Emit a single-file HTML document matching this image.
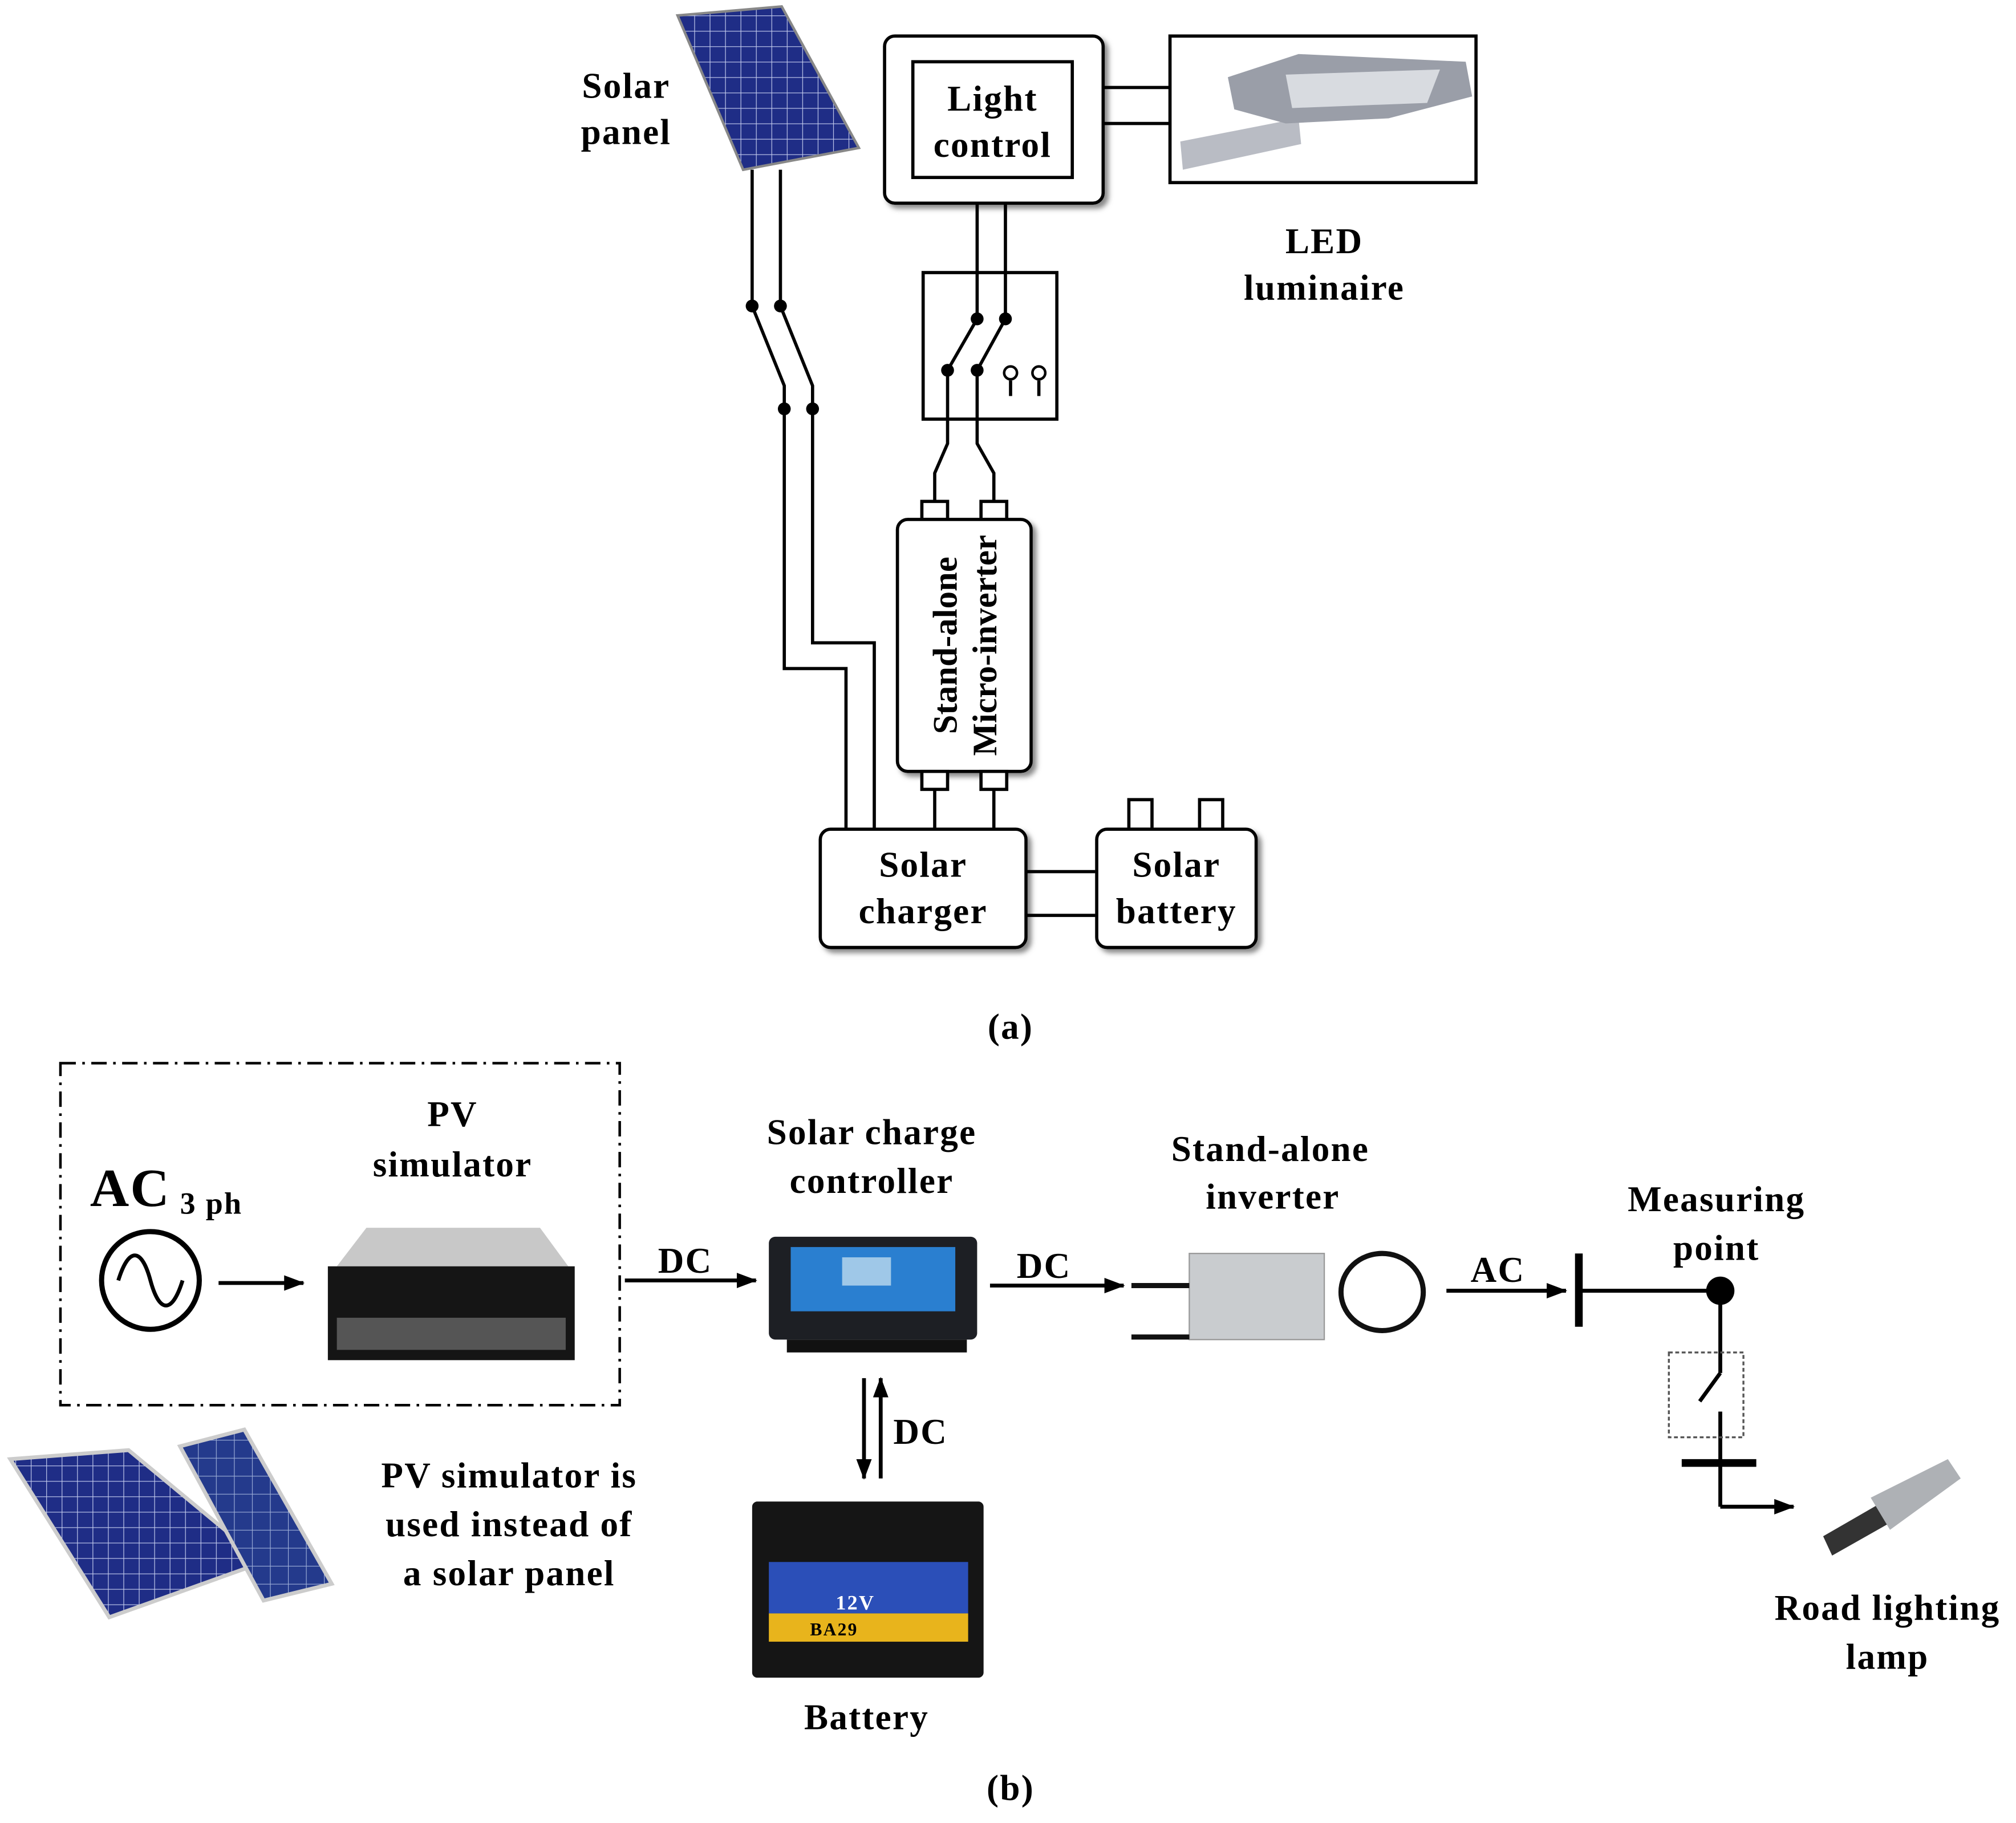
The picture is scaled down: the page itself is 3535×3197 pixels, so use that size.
<!DOCTYPE html>
<html><head><meta charset="utf-8"><style>
html,body{margin:0;padding:0;background:#fff;}
svg{display:block;}
text{font-family:"Liberation Serif",serif;font-weight:bold;fill:#000;letter-spacing:1px;}
text.v{letter-spacing:0;}
</style></head><body>
<svg width="3535" height="3197" viewBox="0 0 1568 1418" xmlns="http://www.w3.org/2000/svg">
<defs>
<marker id="ar" markerWidth="16" markerHeight="12" refX="15" refY="6" orient="auto" markerUnits="userSpaceOnUse" viewBox="0 0 16 12"><path d="M0,0 L16,6 L0,12 z" fill="#000"/></marker>
<filter id="sh" x="-10%" y="-10%" width="130%" height="130%"><feDropShadow dx="3" dy="3" stdDeviation="2" flood-color="#888"/></filter>
<pattern id="cells" width="12" height="12" patternUnits="userSpaceOnUse"><rect width="12" height="12" fill="#1f2d86"/><path d="M0,0H12M0,0V12" stroke="#c8d0f0" stroke-width="1"/></pattern>
<pattern id="cells2" width="14" height="14" patternUnits="userSpaceOnUse"><rect width="14" height="14" fill="#243a8c"/><path d="M0,0H14M0,0V14" stroke="#9fb0d8" stroke-width="1"/></pattern>
</defs>
<g fill="none" stroke="#000" stroke-width="2.5">
<polygon points="527,12 608,5 668,115 578,132" fill="url(#cells)" stroke="#888" stroke-width="2"/>
<path d="M585,132V238L610,300V520H658V645"/>
<path d="M607,132V238L632,300V500H680V645"/>
<rect x="688" y="28" width="170" height="130" rx="8" fill="#fff" filter="url(#sh)"/>
<rect x="710" y="48" width="124" height="90" fill="#fff"/>
<path d="M858,68H910M858,96H910"/>
<rect x="910" y="28" width="238" height="114" fill="#fff"/>
<rect x="718" y="212" width="104" height="114" fill="#fff"/>
<path d="M760,158V248M782,158V248"/>
<path d="M737,288L760,248M760,288L782,248"/>
<path d="M737,288V345L727,368V390M760,288V345L773,368V390"/>
<path d="M786,296V308M808,296V308"/>
<rect x="717" y="390" width="20" height="14" fill="#fff"/>
<rect x="763" y="390" width="20" height="14" fill="#fff"/>
<rect x="698" y="404" width="104" height="196" rx="8" fill="#fff" filter="url(#sh)"/>
<rect x="717" y="600" width="20" height="14" fill="#fff"/>
<rect x="763" y="600" width="20" height="14" fill="#fff"/>
<path d="M727,614V645M773,614V645"/>
<rect x="638" y="645" width="160" height="92" rx="8" fill="#fff" filter="url(#sh)"/>
<path d="M798,678H853M798,712H853"/>
<rect x="878" y="622" width="18" height="23" fill="#fff"/>
<rect x="933" y="622" width="18" height="23" fill="#fff"/>
<rect x="853" y="645" width="124" height="92" rx="8" fill="#fff" filter="url(#sh)"/>
</g>
<g fill="#000">
<circle cx="585" cy="238" r="5"/><circle cx="607" cy="238" r="5"/>
<circle cx="610" cy="318" r="5"/><circle cx="632" cy="318" r="5"/>
<circle cx="760" cy="248" r="5"/><circle cx="782" cy="248" r="5"/>
<circle cx="737" cy="288" r="5"/><circle cx="760" cy="288" r="5"/>
</g>
<circle cx="786" cy="290" r="5" fill="#fff" stroke="#000" stroke-width="2"/>
<circle cx="808" cy="290" r="5" fill="#fff" stroke="#000" stroke-width="2"/>
<path d="M918,110 L1010,92 L1012,112 L920,132 Z" fill="#b9bcc4"/>
<path d="M955,60 L1010,42 L1140,48 L1145,75 L1080,92 L1000,96 L960,85 Z" fill="#9a9ea8"/>
<path d="M1000,58 L1120,54 L1110,80 L1005,84 Z" fill="#d8dbe0"/>
<g font-size="28" text-anchor="middle">
<text x="487" y="76">Solar</text><text x="487" y="112">panel</text>
<text x="772" y="86">Light</text><text x="772" y="122">control</text>
<text x="1030" y="197">LED</text><text x="1030" y="233">luminaire</text>
<text x="718" y="682">Solar</text><text x="718" y="718">charger</text>
<text x="915" y="682">Solar</text><text x="915" y="718">battery</text>
<text class="v" font-size="27" transform="translate(744,502) rotate(-90)">Stand-alone</text>
<text class="v" font-size="27" transform="translate(775,502) rotate(-90)">Micro-inverter</text>
<text x="786" y="808" font-weight="normal">(<tspan font-weight="bold">a</tspan>)</text>
</g>
<rect x="47" y="827" width="435" height="266" fill="none" stroke="#000" stroke-width="2" stroke-dasharray="12,5,2,5"/>
<circle cx="117" cy="996" r="38" fill="none" stroke="#000" stroke-width="4"/>
<path d="M92,996 C100,970 110,970 117,996 C124,1022 134,1022 142,996" fill="none" stroke="#000" stroke-width="3"/>
<g stroke="#000" stroke-width="3" fill="none">
<path d="M170,998H236" marker-end="url(#ar)"/>
<path d="M486,996H588" marker-end="url(#ar)"/>
<path d="M770,1000H874" marker-end="url(#ar)"/>
<path d="M1125,1004H1218" marker-end="url(#ar)"/>
<path d="M672,1072V1150" marker-end="url(#ar)"/>
<path d="M685,1150V1072" marker-end="url(#ar)"/>
<path d="M1228,1004H1338V1068M1338,1068L1322,1090M1338,1098V1172" />
<path d="M1338,1172H1395" marker-end="url(#ar)"/>
</g>
<path d="M1228,975V1032" stroke="#000" stroke-width="6"/>
<path d="M1308,1138H1366" stroke="#000" stroke-width="6"/>
<circle cx="1338" cy="1004" r="11" fill="#000"/>
<rect x="1298" y="1052" width="58" height="66" fill="none" stroke="#555" stroke-width="1.5" stroke-dasharray="3,2"/>
<path d="M262,985 L285,955 L420,955 L442,985 Z" fill="#c8c8c8"/>
<rect x="255" y="985" width="192" height="73" fill="#151515"/>
<rect x="262" y="1025" width="178" height="25" fill="#555"/>
<rect x="598" y="962" width="162" height="80" rx="5" fill="#1d1f24"/>
<rect x="615" y="970" width="128" height="50" fill="#2a7fd0"/>
<rect x="655" y="978" width="38" height="22" fill="#9fc8e8"/>
<rect x="612" y="1042" width="140" height="10" fill="#111"/>
<rect x="925" y="975" width="105" height="67" fill="#c9cccf" stroke="#999"/>
<path d="M880,1000H925M880,1040H925" stroke="#111" stroke-width="4"/>
<ellipse cx="1075" cy="1005" rx="32" ry="30" fill="none" stroke="#111" stroke-width="4"/>
<rect x="585" y="1168" width="180" height="137" rx="4" fill="#151515"/>
<rect x="598" y="1215" width="155" height="40" fill="#2b4fb8"/>
<rect x="598" y="1255" width="155" height="22" fill="#e8b41c"/>
<text x="650" y="1252" font-size="16" style="fill:#fff" font-family="Liberation Sans">12V</text>
<text x="630" y="1272" font-size="14" font-family="Liberation Sans">BA29</text>
<polygon points="8,1135 100,1128 205,1215 85,1258" fill="url(#cells)" stroke="#ccc" stroke-width="3"/>
<polygon points="140,1125 190,1112 258,1232 205,1245" fill="url(#cells2)" stroke="#ccc" stroke-width="3"/>
<path d="M1418,1195 L1470,1165 L1478,1180 L1425,1210 Z" fill="#333"/>
<path d="M1455,1165 L1515,1135 L1525,1150 L1470,1190 Z" fill="#aeb1b5"/>
<g font-size="28" text-anchor="middle">
<text x="352" y="876">PV</text><text x="352" y="915">simulator</text>
<text x="678" y="890">Solar charge</text><text x="678" y="928">controller</text>
<text x="988" y="903">Stand-alone</text><text x="990" y="940">inverter</text>
<text x="1335" y="942">Measuring</text><text x="1335" y="980">point</text>
<text x="1468" y="1260">Road lighting</text><text x="1468" y="1298">lamp</text>
<text x="674" y="1345">Battery</text>
<text x="396" y="1157">PV simulator is</text><text x="396" y="1195">used instead of</text><text x="396" y="1233">a solar panel</text>
<text x="533" y="990">DC</text><text x="812" y="994">DC</text><text x="1165" y="997">AC</text><text x="716" y="1123">DC</text>
<text x="786" y="1400" font-weight="normal">(<tspan font-weight="bold">b</tspan>)</text>
</g>
<text x="70" y="938" font-size="42">AC</text>
<text x="140" y="944" font-size="24">3 ph</text>
</svg>
</body></html>
